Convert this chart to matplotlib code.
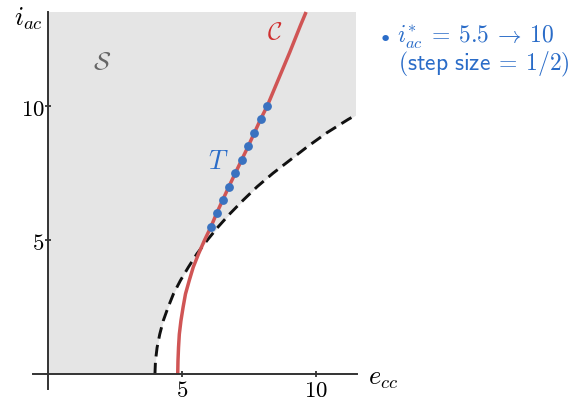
import matplotlib
matplotlib.use("Agg")
import matplotlib.pyplot as plt
import numpy as np

plt.rcParams['mathtext.fontset'] = 'cm'
plt.rcParams['font.family'] = 'DejaVu Sans'

# red curve C (e_cc, i_ac)
curve_y = [0.0, 0.5, 1.0, 1.5, 2.0, 2.5, 3.0, 3.5, 4.0, 4.5, 5.0, 5.5,
           6.0, 6.5, 7.0, 7.5, 8.0, 8.5, 9.0, 9.5, 10.0, 11.0, 12.0, 13.0, 13.5]
curve_x = [4.84, 4.85, 4.87, 4.90, 4.96, 5.04, 5.13, 5.27, 5.42, 5.62, 5.84, 6.08,
           6.29, 6.52, 6.75, 6.99, 7.23, 7.47, 7.70, 7.93, 8.18, 8.60, 9.02, 9.42, 9.63]

# dashed boundary of S
bound_y = [0.0, 0.5, 1.0, 1.5, 2.0, 2.5, 3.0, 3.5, 4.0, 4.5, 5.0, 5.5,
           6.0, 6.5, 7.0, 7.5, 8.0, 8.5, 9.0, 9.5, 9.68]
bound_x = [3.99, 4.01, 4.07, 4.17, 4.30, 4.48, 4.68, 4.94, 5.24, 5.56, 5.94, 6.35,
           6.80, 7.29, 7.81, 8.40, 9.05, 9.70, 10.40, 11.20, 11.52]

# operating points T, i_ac* = 5.5 -> 10
T_iac = [5.5, 6.0, 6.5, 7.0, 7.5, 8.0, 8.5, 9.0, 9.5, 10.0]
T_ecc = [6.08, 6.29, 6.52, 6.75, 6.99, 7.23, 7.47, 7.70, 7.93, 8.18]

xticks = [5, 10]
yticks = [5, 10]

red = '#d05555'
blue = '#3a72c0'
text_blue = '#2a6cc8'

fig = plt.figure(figsize=(5.74, 4.02), dpi=100)
ax = fig.add_axes([0, 0, 1, 1])
ax.set_xlim(-1.791, 19.627)
ax.set_ylim(-0.987, 13.985)

# shaded set S, minus the part under the dashed curve
ax.fill_between([0, 11.5], 0, 13.5, color='#e5e5e5', lw=0, zorder=0)
ax.fill_betweenx(bound_y, bound_x, 11.5, color='white', lw=0, zorder=0.5)

ax.plot(bound_x, bound_y, color='#111111', lw=2.1, dashes=(4.0, 2.2), zorder=2)
ax.plot(curve_x, curve_y, color=red, lw=2.5, solid_capstyle='butt', zorder=3)
ax.plot(T_ecc, T_iac, 'o', color=blue, ms=5.3, zorder=4)

# axes through the origin
for side in ['top', 'right']:
    ax.spines[side].set_visible(False)
ax.spines['left'].set_position(('data', 0))
ax.spines['bottom'].set_position(('data', 0))
ax.spines['left'].set_bounds(-0.55, 13.49)
ax.spines['bottom'].set_bounds(-0.57, 11.52)
for side in ['left', 'bottom']:
    ax.spines[side].set_linewidth(1.4)
    ax.spines[side].set_color('#333333')
    ax.spines[side].set_zorder(5)
ax.set_xticks(xticks)
ax.set_yticks(yticks)
ax.set_xticklabels(['$%d$' % t for t in xticks])
ax.set_yticklabels(['$%d$' % t for t in yticks])
ax.tick_params(direction='inout', length=5, width=1.2, color='#222222',
               labelsize=16.5, pad=0)
ax.patch.set_visible(False)

ax.text(-0.75, 13.3, r'$i_{ac}$', fontsize=19, ha='center', va='center')
ax.text(12.5, -0.1, r'$e_{cc}$', fontsize=19, ha='center', va='center')
ax.text(2.0, 11.68, r'$\mathcal{S}$', fontsize=18, color='#666666',
        ha='center', va='center')
ax.text(8.47, 12.8, r'$\mathcal{C}$', fontsize=18, color='#d03030',
        ha='center', va='center')
ax.text(6.36, 7.96, r'$T$', fontsize=19, color=text_blue,
        ha='center', va='center')

fig.text(385 / 574, 1 - 40 / 402, '\u2022', fontsize=16, color=text_blue,
         ha='center', va='center')
fig.text(397 / 574, 1 - 37 / 402, r'$i^{*}_{ac}\:=\:5.5\:\rightarrow\:10$',
         fontsize=17, color=text_blue, ha='left', va='center')
fig.text(398 / 574, 1 - 64 / 402, r'$\mathsf{(step\ size}\:=\:\mathsf{1/2)}$',
         fontsize=17, color=text_blue, ha='left', va='center')

fig.savefig('out.png', dpi=100)
